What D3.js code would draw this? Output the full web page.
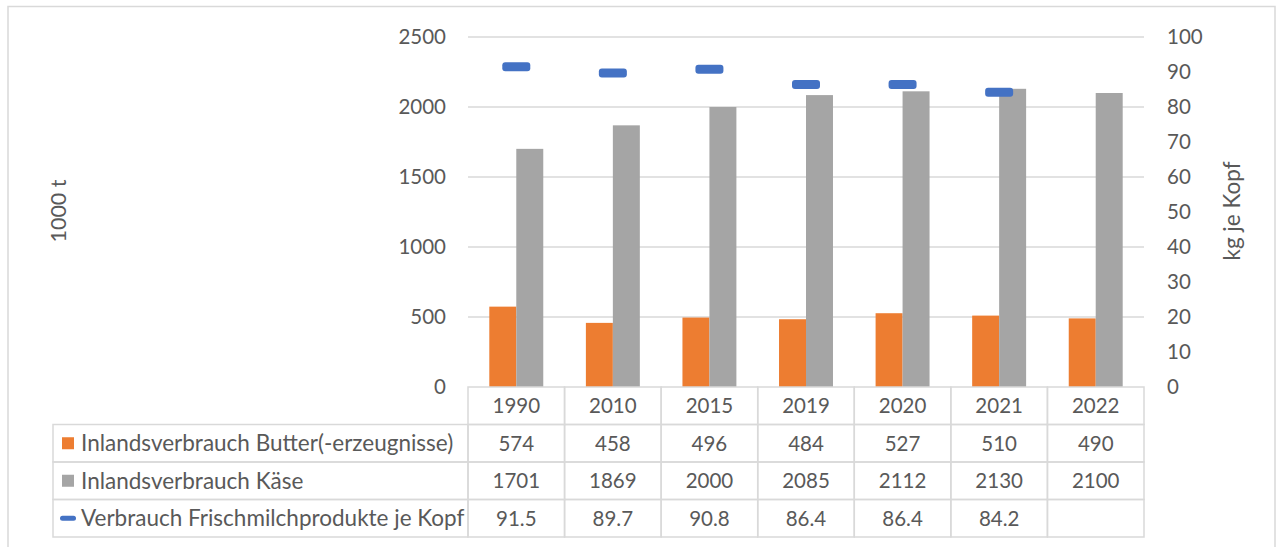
<!DOCTYPE html>
<html><head><meta charset="utf-8">
<script src="https://cdn.jsdelivr.net/npm/d3@7"></script>
<style>
html,body{margin:0;padding:0;background:#fff;overflow:hidden}
text{font-family:Lato,"Open Sans",sans-serif;fill:#595959}
</style></head><body>
<svg id="c" width="1276" height="547"></svg>
<script>
const categories = ["1990","2010","2015","2019","2020","2021","2022"];
const butter = [574,458,496,484,527,510,490];
const kaese = [1701,1869,2000,2085,2112,2130,2100];
const frisch = [91.5,89.7,90.8,86.4,86.4,84.2,null];
const leftTicks = [0,500,1000,1500,2000,2500];
const rightTicks = [0,10,20,30,40,50,60,70,80,90,100];
const seriesNames = ["Inlandsverbrauch Butter(-erzeugnisse)","Inlandsverbrauch Käse","Verbrauch Frischmilchprodukte je Kopf"];
const colors = ["#ED7D31","#A5A5A5","#4472C4"];

const svg = d3.select("#c");
const FS = 20.5;
const grid = "#D9D9D9";

// outer frame
svg.append("rect").attr("x",8).attr("y",6.5).attr("width",1267).attr("height",560)
  .attr("fill","none").attr("stroke",grid).attr("stroke-width",1.5);

const x = d3.scaleBand().domain(categories).range([468,1144]);
const yL = d3.scaleLinear().domain([0,2500]).range([387,37]);
const yR = d3.scaleLinear().domain([0,100]).range([387,37]);
const xs = d3.scaleBand().domain([0,1]).range([0,x.bandwidth()]).paddingInner(0).paddingOuter(0.79);

// gridlines
svg.append("g").selectAll("line").data(leftTicks.filter(d=>d>0)).join("line")
  .attr("x1",468).attr("x2",1144).attr("y1",d=>yL(d)).attr("y2",d=>yL(d))
  .attr("stroke",grid).attr("stroke-width",1.3);

// axes
const gl = svg.append("g").attr("transform","translate(468,0)")
  .call(d3.axisLeft(yL).tickValues(leftTicks).tickFormat(d3.format("d")).tickSize(0).tickPadding(22));
const gr = svg.append("g").attr("transform","translate(1144,0)")
  .call(d3.axisRight(yR).tickValues(rightTicks).tickFormat(d3.format("d")).tickSize(0).tickPadding(23));
[gl,gr].forEach(g=>{g.select(".domain").remove();
  g.selectAll("text").attr("font-size",FS).attr("font-family",null).style("fill","#595959");});

// axis titles
svg.append("text").attr("transform","translate(58,211) rotate(-90)").attr("text-anchor","middle")
  .attr("dy","0.35em").attr("font-size",21.5).text("1000 t");
svg.append("text").attr("transform","translate(1232,211) rotate(-90)").attr("text-anchor","middle")
  .attr("dy","0.35em").attr("font-size",22.5).text("kg je Kopf");

// bars
[butter,kaese].forEach((vals,si)=>{
  svg.append("g").selectAll("rect").data(vals).join("rect")
    .attr("x",(d,i)=>x(categories[i])+xs(si)).attr("width",xs.bandwidth())
    .attr("y",d=>yL(d)).attr("height",d=>yL(0)-yL(d)).attr("fill",colors[si]);
});
// markers
svg.append("g").selectAll("rect").data(frisch.map((v,i)=>({v,c:categories[i]})).filter(d=>d.v!=null)).join("rect")
  .attr("x",d=>x(d.c)+x.bandwidth()/2-14).attr("width",28)
  .attr("y",d=>yR(d.v)-4.5).attr("height",9).attr("rx",3).attr("fill",colors[2]);

// data table
const rowTop = [387,424.5,462,499.5,537];
const tg = svg.append("g");
const tableRows = [butter,kaese,frisch];
categories.forEach(c=>{
  tg.append("rect").attr("x",x(c)).attr("y",rowTop[0]).attr("width",x.bandwidth()).attr("height",rowTop[1]-rowTop[0])
    .attr("fill","none").attr("stroke",grid).attr("stroke-width",1.5);
  tg.append("text").attr("x",x(c)+x.bandwidth()/2).attr("y",(rowTop[0]+rowTop[1])/2).attr("dy","0.36em")
    .attr("text-anchor","middle").attr("font-size",FS).text(c);
});
tableRows.forEach((vals,ri)=>{
  const y0 = rowTop[ri+1], y1 = rowTop[ri+2], ym=(y0+y1)/2;
  tg.append("rect").attr("x",53).attr("y",y0).attr("width",468-53).attr("height",y1-y0)
    .attr("fill","none").attr("stroke",grid).attr("stroke-width",1.5);
  if(ri<2){
    tg.append("rect").attr("x",62).attr("y",ym-6).attr("width",12).attr("height",12).attr("fill",colors[ri]);
  } else {
    tg.append("rect").attr("x",60).attr("y",ym-2.5).attr("width",16).attr("height",5).attr("rx",2.5).attr("fill",colors[ri]);
  }
  tg.append("text").attr("x",81).attr("y",ym).attr("dy","0.36em").attr("font-size",22.5).text(seriesNames[ri]);
  vals.forEach((v,i)=>{
    const c=categories[i];
    tg.append("rect").attr("x",x(c)).attr("y",y0).attr("width",x.bandwidth()).attr("height",y1-y0)
      .attr("fill","none").attr("stroke",grid).attr("stroke-width",1.5);
    if(v!=null) tg.append("text").attr("x",x(c)+x.bandwidth()/2).attr("y",ym).attr("dy","0.36em")
      .attr("text-anchor","middle").attr("font-size",FS).text(v);
  });
});
</script></body></html>
